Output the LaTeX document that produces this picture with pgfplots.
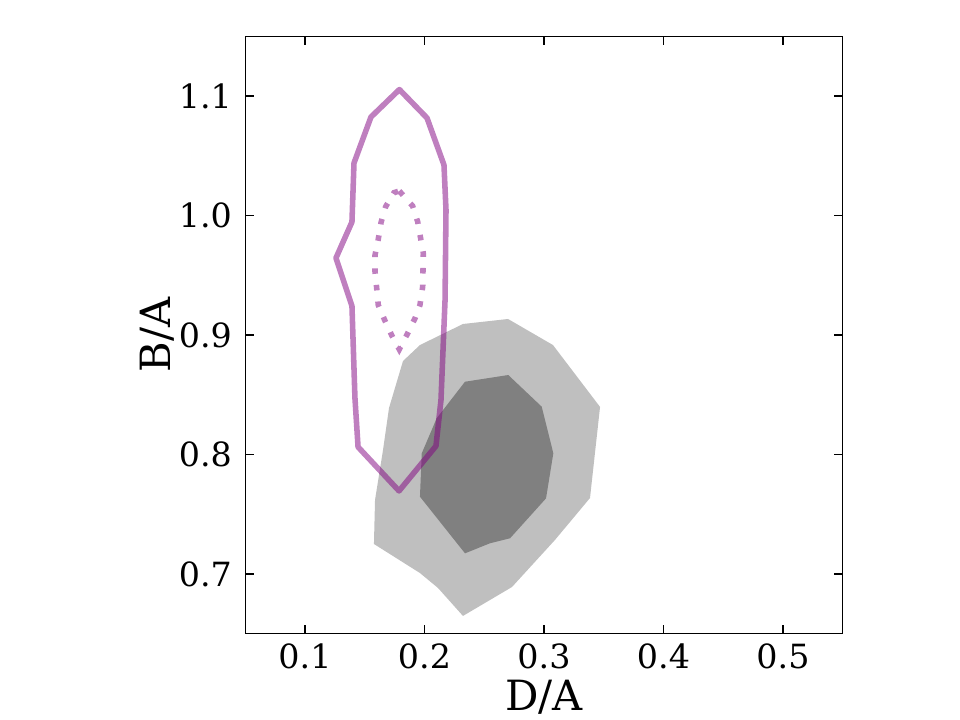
\documentclass[border=0pt]{standalone}
\usepackage{fontspec}
\setmainfont{DejaVu Serif}
\usepackage{pgfplots}
\pgfplotsset{compat=1.18}
\definecolor{mplpurple}{HTML}{800080}
\definecolor{lightg}{HTML}{BFBFBF}
\definecolor{darkg}{HTML}{808080}
\begin{document}
\begin{tikzpicture}
\useasboundingbox (-176.58pt,-62.1pt) rectangle (514.62pt,456.3pt);
\begin{axis}[
  at={(0,0)}, anchor=south west,
  width=430.2pt, height=430.2pt, scale only axis,
  xmin=0.05, xmax=0.55, ymin=0.65, ymax=1.15,
  xtick={0.1,0.2,0.3,0.4,0.5}, ytick={0.7,0.8,0.9,1.0,1.1},
  xticklabels={0.1,0.2,0.3,0.4,0.5}, yticklabels={0.7,0.8,0.9,1.0,1.1},
  tick align=inside, xtick pos=both, ytick pos=both,
  major tick length=6.6pt,
  every tick/.style={black, line width=0.9pt},
  axis line style={line width=1.0pt},
  tick label style={font=\fontsize{24}{28}\selectfont},
  xticklabel style={inner sep=0pt, anchor=north, yshift=-6.8pt},
  yticklabel style={inner sep=0pt, anchor=east, xshift=-9.4pt},
  label style={font=\fontsize{30}{36}\selectfont},
  xlabel={D/A}, ylabel={B/A},
  xlabel style={at={(axis description cs:0.5,-0.1292)}, anchor=base, inner sep=0pt},
  ylabel style={at={(axis description cs:-0.1255,0.5)}, anchor=base, inner sep=0pt},
]
% light gray region
\addplot[fill=lightg, draw=none] coordinates {
(0.1962,0.8916) (0.2322,0.9092) (0.2699,0.9134) (0.3075,0.8916) (0.3469,0.8398)
(0.3385,0.7636) (0.3092,0.7285) (0.2732,0.6891) (0.2322,0.6649) (0.2113,0.6883)
(0.1962,0.7008) (0.1577,0.7251) (0.1586,0.7619) (0.1653,0.8038) (0.1703,0.8389)
(0.1820,0.8782)
} -- cycle;
% dark gray region
\addplot[fill=darkg, draw=none] coordinates {
(0.2339,0.8609) (0.2701,0.8665) (0.2981,0.8400) (0.3078,0.8010) (0.3017,0.7633)
(0.2716,0.7299) (0.2548,0.7257) (0.2339,0.7173) (0.1962,0.7647) (0.1977,0.8010)
(0.2102,0.8303)
} -- cycle;
% solid purple contour
\addplot[draw=mplpurple, draw opacity=0.5, line width=4pt, line join=round] coordinates {
(0.1790,1.1054) (0.2021,1.0816) (0.2163,1.0423) (0.2180,1.0046) (0.2172,0.9293)
(0.2138,0.8456) (0.2096,0.8071) (0.1787,0.7695) (0.1444,0.8063) (0.1418,0.8473)
(0.1393,0.9243) (0.1259,0.9644) (0.1393,0.9946) (0.1410,1.0439) (0.1552,1.0824)
} -- cycle;
% dotted purple contour
\addplot[draw=mplpurple, draw opacity=0.5, line width=4pt, dash pattern=on 4pt off 8pt] coordinates {
(0.1789,1.0205) (0.1901,1.0079) (0.1943,0.9948) (0.1990,0.9684) (0.1985,0.9404)
(0.1962,0.9251) (0.1921,0.9140) (0.1856,0.9008) (0.1789,0.8880) (0.1726,0.8997)
(0.1664,0.9131) (0.1613,0.9251) (0.1600,0.9391) (0.1586,0.9530) (0.1586,0.9669)
(0.1613,0.9801) (0.1636,0.9940) (0.1675,1.0074) (0.1745,1.0191)
} -- cycle;
\end{axis}
\end{tikzpicture}
\end{document}
